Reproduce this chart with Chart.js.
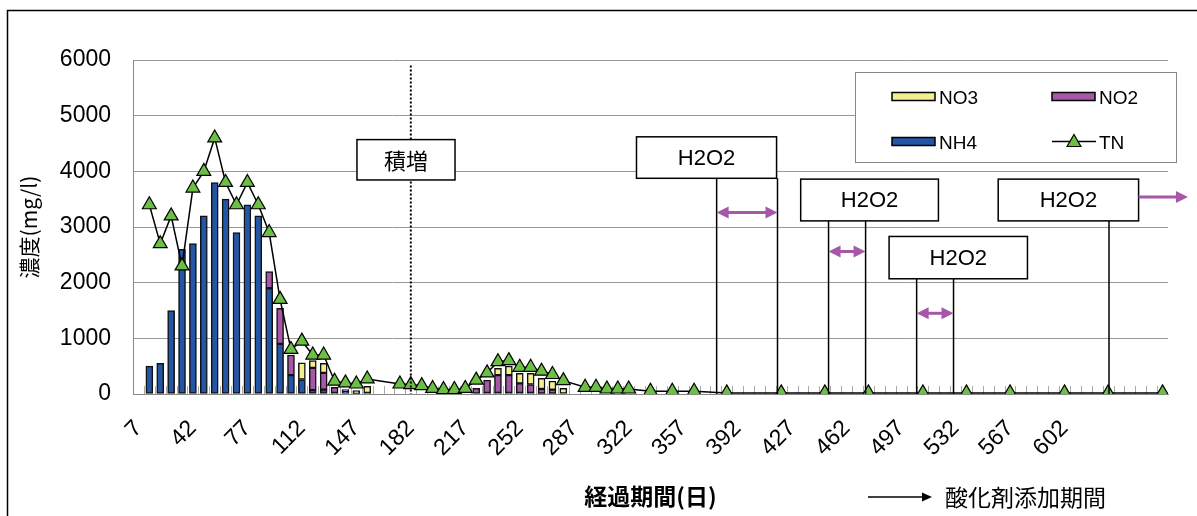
<!DOCTYPE html>
<html lang="ja">
<head>
<meta charset="utf-8">
<title>窒素濃度の推移</title>
<script src="https://cdn.jsdelivr.net/npm/chart.js@4.4.1/dist/chart.umd.min.js"></script>
<style>
  html, body { margin: 0; padding: 0; background: #fff; }
  #wrap { position: relative; width: 1197px; height: 516px; }
</style>
</head>
<body>
<div id="wrap"><canvas id="nChart" width="1197" height="516"></canvas></div>
<script>
// 経過日数 (sampling days)
const days = [14, 21, 28, 35, 42, 49, 56, 63, 70, 77, 84, 91, 98, 105, 112, 119, 126, 133, 140, 147, 154,
  175, 182, 189, 196, 203, 210, 217, 224, 231, 238, 245, 252, 259, 266, 273, 280,
  294, 301, 308, 315, 322, 336, 350, 364, 385,
  420, 448, 476, 511, 539, 567, 602, 630, 665];

// mg/l, null = not measured
const nh4 = [500, 550, 1500, 2600, 2700, 3200, 3800, 3500, 2900, 3400, 3200, 1900, 900, 340, 260, 70, 80, 20, 50, 10, 20,
  null, null, null, null, null, null, null, 0, 20, 20, 20, 20, 20, 10, 10, 0,
  null, null, null, null, null, null, null, null, null,
  null, null, null, null, null, null, null, null, null];
const no2 = [null, null, null, null, null, null, null, null, null, null, null, 300, 640, 360, 0, 400, 300, 100, 30, 0, 0,
  null, null, null, null, null, null, null, 100, 230, 320, 320, 170, 150, 80, 70, 0,
  null, null, null, null, null, null, null, null, null,
  null, null, null, null, null, null, null, null, null];
const no3 = [null, null, null, null, null, null, null, null, null, null, null, null, null, null, 300, 130, 170, 0, 0, 50, 120,
  null, null, null, null, null, null, null, 0, 0, 120, 160, 180, 200, 190, 150, 100,
  null, null, null, null, null, null, null, null, null,
  null, null, null, null, null, null, null, null, null];
const tn = [3400, 2700, 3200, 2300, 3700, 4000, 4600, 3800, 3400, 3800, 3400, 2900, 1700, 800, 950, 700, 700, 230, 200, 180, 270,
  180, 170, 150, 100, 80, 80, 100, 250, 380, 580, 600, 480, 480, 410, 350, 240,
  120, 120, 90, 90, 90, 50, 50, 50, 20,
  20, 20, 20, 20, 20, 20, 20, 20, 20];

const tickDays = [7, 42, 77, 112, 147, 182, 217, 252, 287, 322, 357, 392, 427, 462, 497, 532, 567, 602];
const yTicks = [0, 1000, 2000, 3000, 4000, 5000, 6000];
const sampleStep = 7;

// 負荷積増の日
const loadIncreaseDay = 182;
// 酸化剤(H2O2)添加期間: label box [day from, day to, value top, value bottom], legs, arrow
const oxidant = [
  { box: [327, 417, 4620, 3875], legs: [378.5, 417.6], arrow: [378.5, 417.6], arrowY: 3260, both: true },
  { box: [432.5, 521, 3860, 3110], legs: [450.4, 474.2], arrow: [450.4, 474.2], arrowY: 2560, both: true },
  { box: [489.3, 578.2, 2830, 2070], legs: [507, 530.7], arrow: [507, 530.7], arrowY: 1450, both: true },
  { box: [559.4, 649.6, 3860, 3110], legs: [630.6], arrow: [649.6, 681.3], arrowY: 3540, both: false }
];

const C_NH4 = '#2456a6', C_NO2 = '#a657a8', C_NO3 = '#f2f08e', C_TN = '#6cbf45';
const SANS = '"Liberation Sans", Arial, sans-serif';
const JP = '"Noto Sans CJK JP", sans-serif';

function arrowHead(ctx, x, y, dir, len, half) {
  ctx.beginPath();
  ctx.moveTo(x, y);
  ctx.lineTo(x - dir * len, y - half);
  ctx.lineTo(x - dir * len, y + half);
  ctx.closePath();
  ctx.fill();
}

function triangle(ctx, x, y, r) {
  ctx.beginPath();
  ctx.moveTo(x, y - r);
  ctx.lineTo(x + r * 0.866, y + r / 2);
  ctx.lineTo(x - r * 0.866, y + r / 2);
  ctx.closePath();
  ctx.fill();
  ctx.stroke();
}

const extras = {
  id: 'extras',
  beforeDraw(chart) {
    const ctx = chart.ctx;
    ctx.save();
    ctx.strokeStyle = '#000';
    ctx.lineWidth = 1.5;
    ctx.strokeRect(7.5, 10.5, 1400, 700);
    ctx.restore();
  },
  beforeDatasetsDraw(chart) {
    // inner tick marks between samples
    const { ctx, chartArea: a, scales: { x } } = chart;
    ctx.save();
    ctx.strokeStyle = '#aaa';
    ctx.lineWidth = 1;
    for (let d = x.min + sampleStep; d < x.max; d += sampleStep) {
      const px = Math.round(x.getPixelForValue(d)) + 0.5;
      ctx.beginPath();
      ctx.moveTo(px, a.bottom - 8);
      ctx.lineTo(px, a.bottom);
      ctx.stroke();
    }
    ctx.restore();
  },
  afterDraw(chart) {
    const { ctx, scales: { x, y } } = chart;
    const bottom = y.getPixelForValue(0);
    ctx.save();

    // 積増 line and label
    const xi = x.getPixelForValue(loadIncreaseDay);
    ctx.strokeStyle = '#000';
    ctx.lineWidth = 2;
    ctx.setLineDash([2, 2]);
    ctx.beginPath();
    ctx.moveTo(xi, y.getPixelForValue(5900));
    ctx.lineTo(xi, bottom);
    ctx.stroke();
    ctx.setLineDash([]);
    const bx0 = x.getPixelForValue(147.4), bx1 = x.getPixelForValue(210.4);
    const by0 = y.getPixelForValue(4570), by1 = y.getPixelForValue(3845);
    ctx.fillStyle = '#fff';
    ctx.fillRect(bx0, by0, bx1 - bx0, by1 - by0);
    ctx.lineWidth = 1.5;
    ctx.strokeRect(bx0, by0, bx1 - bx0, by1 - by0);
    ctx.fillStyle = '#000';
    ctx.font = '22px ' + JP;
    ctx.textAlign = 'center';
    ctx.textBaseline = 'middle';
    ctx.fillText('積増', (bx0 + bx1) / 2, (by0 + by1) / 2 + 1);

    // H2O2 periods
    oxidant.forEach(o => {
      const l = x.getPixelForValue(o.box[0]), r = x.getPixelForValue(o.box[1]);
      const t = y.getPixelForValue(o.box[2]), b = y.getPixelForValue(o.box[3]);
      ctx.strokeStyle = '#000';
      ctx.lineWidth = 1.5;
      o.legs.forEach(d => {
        const px = x.getPixelForValue(d);
        ctx.beginPath();
        ctx.moveTo(px, b);
        ctx.lineTo(px, bottom);
        ctx.stroke();
      });
      ctx.fillStyle = '#fff';
      ctx.fillRect(l, t, r - l, b - t);
      ctx.strokeRect(l, t, r - l, b - t);
      ctx.fillStyle = '#000';
      ctx.font = '22px ' + SANS;
      ctx.fillText('H2O2', (l + r) / 2, (t + b) / 2 + 1);

      const a0 = x.getPixelForValue(o.arrow[0]), a1 = x.getPixelForValue(o.arrow[1]);
      const ay = y.getPixelForValue(o.arrowY);
      ctx.strokeStyle = C_NO2;
      ctx.fillStyle = C_NO2;
      ctx.lineWidth = 3;
      ctx.beginPath();
      ctx.moveTo(a0 + (o.both ? 6 : 0), ay);
      ctx.lineTo(a1 - 6, ay);
      ctx.stroke();
      arrowHead(ctx, a1, ay, 1, 12, 6);
      if (o.both) arrowHead(ctx, a0, ay, -1, 12, 6);
    });

    // legend
    ctx.fillStyle = '#fff';
    ctx.fillRect(855.5, 72.5, 321, 90);
    ctx.strokeStyle = '#888';
    ctx.lineWidth = 1;
    ctx.strokeRect(855.5, 72.5, 321, 90);
    const ds = chart.data.datasets;
    const items = [[ds[2], 892, 96.5], [ds[1], 1052, 96.5], [ds[0], 892, 141.5], [ds[3], 1052, 141.5]];
    ctx.font = '19px ' + SANS;
    ctx.textAlign = 'left';
    items.forEach(([d, lx, ly]) => {
      ctx.strokeStyle = '#000';
      if (d.type === 'line') {
        ctx.lineWidth = 1.5;
        ctx.beginPath();
        ctx.moveTo(lx, ly);
        ctx.lineTo(lx + 44, ly);
        ctx.stroke();
        ctx.fillStyle = C_TN;
        ctx.lineWidth = 1.2;
        triangle(ctx, lx + 22, ly + 1, 8);
      } else {
        ctx.fillStyle = d.backgroundColor;
        ctx.lineWidth = 1.5;
        ctx.fillRect(lx, ly - 4, 43, 8);
        ctx.strokeRect(lx, ly - 4, 43, 8);
      }
      ctx.fillStyle = '#000';
      ctx.fillText(d.label, lx + 47, ly + 2);
    });

    // key for the arrows
    ctx.strokeStyle = '#000';
    ctx.fillStyle = '#000';
    ctx.lineWidth = 1.5;
    ctx.beginPath();
    ctx.moveTo(868, 497);
    ctx.lineTo(924, 497);
    ctx.stroke();
    arrowHead(ctx, 932, 497, 1, 10, 4.5);
    ctx.font = '23px ' + JP;
    ctx.fillText('酸化剤添加期間', 945, 497);
    ctx.restore();
  }
};

const barStyle = { type: 'bar', borderColor: '#111', borderWidth: 1.5, borderSkipped: false, barThickness: 7, stack: 'n', order: 1 };

new Chart(document.getElementById('nChart'), {
  data: {
    labels: days,
    datasets: [
      Object.assign({ label: 'NH4', data: nh4, backgroundColor: C_NH4 }, barStyle),
      Object.assign({ label: 'NO2', data: no2, backgroundColor: C_NO2 }, barStyle),
      Object.assign({ label: 'NO3', data: no3, backgroundColor: C_NO3 }, barStyle),
      {
        type: 'line', label: 'TN', data: tn, stack: 'tn', order: 0,
        borderColor: '#000', borderWidth: 1.5, tension: 0, fill: false,
        pointStyle: 'triangle', pointRadius: 8, pointBackgroundColor: C_TN,
        pointBorderColor: '#000', pointBorderWidth: 1.2
      }
    ]
  },
  options: {
    responsive: false,
    animation: false,
    layout: { padding: { top: 60, right: 29, bottom: 0, left: 0 } },
    plugins: { legend: { display: false }, tooltip: { enabled: false } },
    scales: {
      x: {
        type: 'linear', min: 3.5, max: 668.5, stacked: true, offset: false,
        grid: { display: false, drawTicks: false, offset: false },
        border: { display: true, color: '#888', width: 1 },
        afterBuildTicks: s => { s.ticks = tickDays.map(v => ({ value: v })); },
        afterFit: s => { s.height = 122; },
        ticks: {
          autoSkip: false, minRotation: 45, maxRotation: 45, padding: 21, color: '#000',
          font: { family: SANS, size: 23 }, callback: v => String(v)
        },
        title: {
          display: true, text: '経過期間(日)', color: '#000',
          font: { family: JP, size: 23, weight: 'bold' }, padding: { top: 0, bottom: 6 }
        }
      },
      y: {
        min: 0, max: 6000, stacked: true,
        afterBuildTicks: s => { s.ticks = yTicks.map(v => ({ value: v })); },
        afterFit: s => { s.width = 133; },
        grid: { color: '#999', lineWidth: 1, drawTicks: false },
        border: { display: true, color: '#888', width: 1 },
        ticks: { padding: 22, color: '#000', font: { family: SANS, size: 23 }, callback: v => String(v) },
        title: {
          display: true, text: '濃度(mg/l)', color: '#000',
          font: { family: JP, size: 21 }, padding: { top: 16, bottom: 0 }
        }
      }
    }
  },
  plugins: [extras]
});
</script>
</body>
</html>
